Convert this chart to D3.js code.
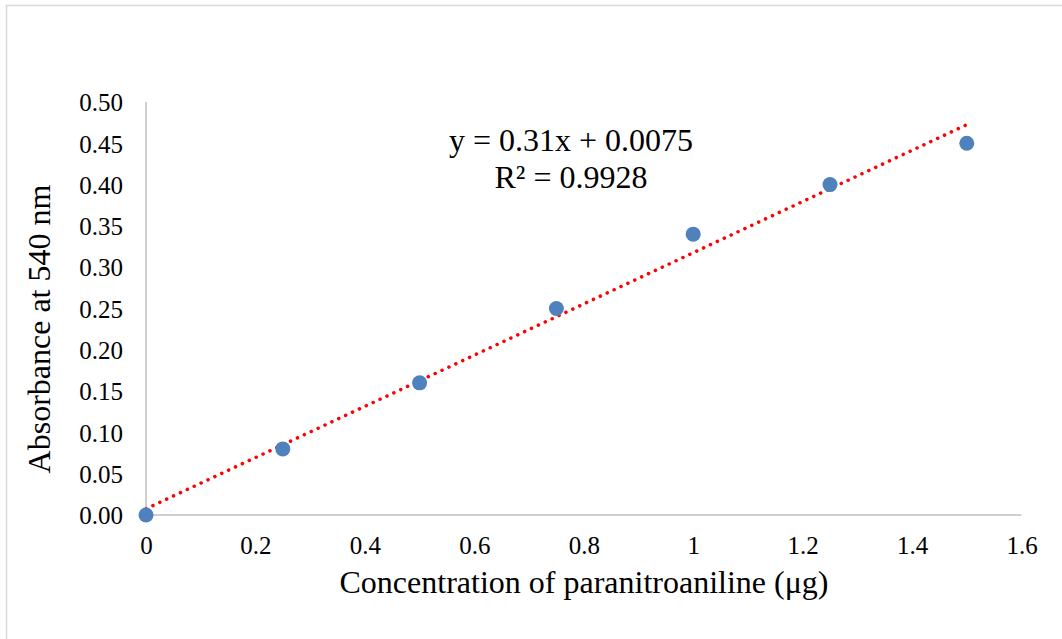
<!DOCTYPE html>
<html><head><meta charset="utf-8">
<script src="https://cdn.jsdelivr.net/npm/d3@7"></script>
<style>body{margin:0;background:#fff}svg{display:block}text{font-family:"Liberation Serif","Times New Roman",serif}</style>
</head><body>
<svg id="c" width="1062" height="639"></svg>
<script>
const xValues = [0, 0.25, 0.5, 0.75, 1, 1.25, 1.5];
const yValues = [0, 0.08, 0.16, 0.25, 0.34, 0.40, 0.45];
const xTicks = [0, 0.2, 0.4, 0.6, 0.8, 1, 1.2, 1.4, 1.6];
const yTicks = [0, 0.05, 0.10, 0.15, 0.20, 0.25, 0.30, 0.35, 0.40, 0.45, 0.50];
const slope = 0.31, intercept = 0.0075;
const eqLines = ["y = 0.31x + 0.0075", "R² = 0.9928"];

const svg = d3.select("#c");
const font = "Liberation Serif, Times New Roman, serif";
svg.append("rect").attr("x",6.5).attr("y",5.5).attr("width",1070).attr("height",650)
  .attr("fill","#fff").attr("stroke","#d9d9d9").attr("stroke-width",1.5);

const x = d3.scaleLinear().domain([0,1.6]).range([146,1021.5]);
const y = d3.scaleLinear().domain([0,0.5]).range([515,102]);

svg.append("line").attr("x1",x(0)).attr("x2",x(0)).attr("y1",y(0.5)).attr("y2",y(0))
  .attr("stroke","#bfbfbf").attr("stroke-width",1.5);
svg.append("line").attr("x1",x(0)).attr("x2",x(1.6)).attr("y1",y(0)).attr("y2",y(0))
  .attr("stroke","#bfbfbf").attr("stroke-width",1.5);

const yAxis = d3.axisLeft(y).tickValues(yTicks).tickFormat(d3.format(".2f")).tickSize(0).tickPadding(0);
const gy = svg.append("g").attr("transform",`translate(${x(0)-23},0)`).call(yAxis)
  .attr("font-family",font).attr("font-size",25);
gy.select(".domain").remove();
gy.selectAll("text").style("font-family",font).style("font-size","25px").attr("fill","#000").attr("dy","0.35em");

const xAxis = d3.axisBottom(x).tickValues(xTicks).tickFormat(d=>String(d)).tickSize(0).tickPadding(0);
const gx = svg.append("g").attr("transform",`translate(0,${y(0)+21})`).call(xAxis)
  .attr("font-family",font).attr("font-size",25);
gx.select(".domain").remove();
gx.selectAll("text").style("font-family",font).style("font-size","25px").attr("fill","#000").attr("dy","0.71em");

svg.append("line")
  .attr("x1",x(0)).attr("y1",y(intercept))
  .attr("x2",x(1.5)).attr("y2",y(slope*1.5+intercept))
  .attr("stroke","#ff0000").attr("stroke-width",3.5)
  .attr("stroke-linecap","round").attr("stroke-dasharray","0.1 7.5");

svg.append("g").selectAll("circle").data(xValues.map((v,i)=>[v,yValues[i]])).join("circle")
  .attr("cx",d=>x(d[0])).attr("cy",d=>y(d[1])).attr("r",7.5).attr("fill","#4f81bd");

svg.append("g").selectAll("text").data(eqLines).join("text")
  .attr("x",571).attr("y",(d,i)=>151+i*37).attr("text-anchor","middle")
  .style("font-size","32px").attr("fill","#000").text(d=>d);

svg.append("text").attr("x",584).attr("y",593).attr("text-anchor","middle")
  .style("font-size","32px").attr("fill","#000")
  .text("Concentration of paranitroaniline (μg)");
svg.append("text").attr("transform","translate(50,329) rotate(-90)").attr("text-anchor","middle")
  .style("font-size","32px").attr("fill","#000")
  .text("Absorbance at 540 nm");
</script>
</body></html>
